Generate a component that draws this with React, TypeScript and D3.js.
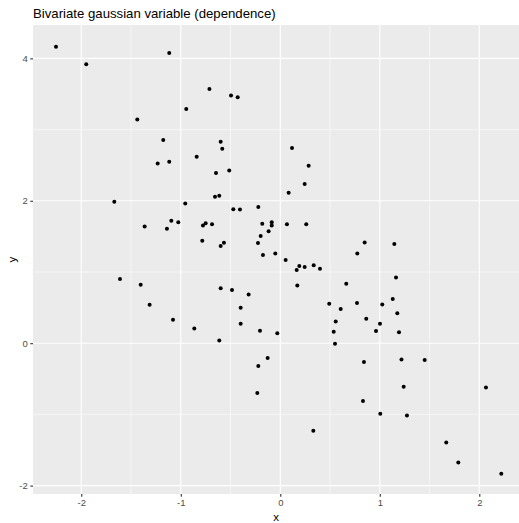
import React, { useEffect, useRef } from "react";
import * as d3 from "d3";

// values (x, y pairs)
const xValues = [
  -2.254, -1.116, -1.95, -0.712, -0.945, -1.437, -1.176, -0.84, -1.232, -1.116,
  -1.668, -0.955, -0.495, -0.428, -0.599, -0.583, 0.118, 0.285, -0.646, -0.513,
  0.245, 0.084, -0.656, -0.613, -0.472, -0.405, -0.221, -1.363, -1.095, -1.025,
  -1.139, -0.777, -0.75, -0.784, -1.611, -1.403, -1.313, -1.078, -0.864, -0.686,
  -0.181, -0.086, -0.086, 0.067, 0.261, -0.117, -0.197, -0.566, -0.599, -0.224,
  -0.174, -0.05, 0.054, 0.774, 0.191, 0.245, 0.336, 0.399, 0.165, 0.171,
  -0.599, -0.485, -0.318, 0.663, 0.492, 0.607, 0.771, -0.398, -0.398, 0.557,
  0.537, 0.55, -0.204, -0.03, -0.613, -0.127, -0.221, -0.231, 0.848, 1.146,
  1.163, 1.13, 1.025, 1.176, 0.864, 1.002, 0.962, 1.193, 1.218, 1.451,
  0.841, 1.24, 2.067, 0.831, 1.005, 1.273, 0.332, 1.668, 1.789, 2.221,
];
const yValues = [
  4.163, 4.074, 3.916, 3.569, 3.288, 3.143, 2.853, 2.618, 2.525, 2.548,
  1.986, 1.963, 3.48, 3.456, 2.829, 2.73, 2.74, 2.492, 2.389, 2.427,
  2.235, 2.112, 2.056, 2.07, 1.883, 1.879, 1.912, 1.64, 1.719, 1.697,
  1.607, 1.654, 1.683, 1.438, 0.9, 0.82, 0.539, 0.329, 0.208, 1.669,
  1.677, 1.697, 1.654, 1.669, 1.669, 1.574, 1.504, 1.41, 1.364, 1.406,
  1.237, 1.261, 1.167, 1.261, 1.083, 1.069, 1.093, 1.045, 1.027, 0.812,
  0.77, 0.746, 0.685, 0.834, 0.553, 0.479, 0.563, 0.497, 0.272, 0.306,
  0.16, -0.008, 0.174, 0.138, 0.039, -0.209, -0.322, -0.701, 1.416, 1.392,
  0.924, 0.619, 0.545, 0.419, 0.343, 0.272, 0.17, 0.152, -0.228, -0.237,
  -0.265, -0.612, -0.621, -0.813, -0.992, -1.014, -1.23, -1.393, -1.674, -1.834,
];
const xTicks = [-2, -1, 0, 1, 2];
const xMinor = [-1.5, -0.5, 0.5, 1.5];
const yTicks = [-2, 0, 2, 4];
const yMinor = [-1, 1, 3];
const title = "Bivariate gaussian variable (dependence)";

const App = () => {
  const svgRef = useRef<SVGSVGElement>(null);

  useEffect(() => {
    const width = 519,
      height = 523;
    const panel = { left: 33, right: 519, top: 25, bottom: 494 };
    const font = "'Liberation Sans', Arial, sans-serif";

    const svg = d3
      .select(svgRef.current)
      .attr("width", width)
      .attr("height", height)
      .html("");

    svg.append("rect").attr("width", width).attr("height", height).attr("fill", "#ffffff");

    const x = d3.scaleLinear().domain([-2.485, 2.399]).range([panel.left, panel.right]);
    const y = d3.scaleLinear().domain([-2.118, 4.469]).range([panel.bottom, panel.top]);

    // panel background
    svg
      .append("rect")
      .attr("x", panel.left)
      .attr("y", panel.top)
      .attr("width", panel.right - panel.left)
      .attr("height", panel.bottom - panel.top)
      .attr("fill", "#ebebeb");

    // grid lines (minor first, then major)
    const grid = svg.append("g");
    grid
      .selectAll("line.xminor")
      .data(xMinor)
      .enter()
      .append("line")
      .attr("x1", (d) => x(d))
      .attr("x2", (d) => x(d))
      .attr("y1", panel.top)
      .attr("y2", panel.bottom)
      .attr("stroke", "#fff")
      .attr("stroke-width", 0.55);
    grid
      .selectAll("line.yminor")
      .data(yMinor)
      .enter()
      .append("line")
      .attr("y1", (d) => y(d))
      .attr("y2", (d) => y(d))
      .attr("x1", panel.left)
      .attr("x2", panel.right)
      .attr("stroke", "#fff")
      .attr("stroke-width", 0.55);
    grid
      .selectAll("line.xmajor")
      .data(xTicks)
      .enter()
      .append("line")
      .attr("x1", (d) => x(d))
      .attr("x2", (d) => x(d))
      .attr("y1", panel.top)
      .attr("y2", panel.bottom)
      .attr("stroke", "#fff")
      .attr("stroke-width", 1.1);
    grid
      .selectAll("line.ymajor")
      .data(yTicks)
      .enter()
      .append("line")
      .attr("y1", (d) => y(d))
      .attr("y2", (d) => y(d))
      .attr("x1", panel.left)
      .attr("x2", panel.right)
      .attr("stroke", "#fff")
      .attr("stroke-width", 1.1);

    // points
    svg
      .append("g")
      .selectAll("circle")
      .data(d3.zip(xValues, yValues))
      .enter()
      .append("circle")
      .attr("cx", (d) => x(d[0]))
      .attr("cy", (d) => y(d[1]))
      .attr("r", 2)
      .attr("fill", "#000");

    // axes (plain hyphen for negatives, like R)
    const fmt = (d: d3.NumberValue) => String(d);
    const xAxis = svg
      .append("g")
      .attr("transform", `translate(0, ${panel.bottom})`)
      .call(d3.axisBottom(x).tickValues(xTicks).tickSize(2.7).tickPadding(2.5).tickFormat(fmt));
    const yAxis = svg
      .append("g")
      .attr("transform", `translate(${panel.left}, 0)`)
      .call(d3.axisLeft(y).tickValues(yTicks).tickSize(2.7).tickPadding(2.5).tickFormat(fmt));

    [xAxis, yAxis].forEach((ax) => {
      ax.select(".domain").remove();
      ax.selectAll(".tick line").attr("stroke", "#333333").attr("stroke-width", 1.1);
      ax.selectAll(".tick text")
        .attr("fill", "#4d4d4d")
        .style("font-family", font)
        .style("font-size", "9.5px");
    });

    // axis titles
    svg
      .append("text")
      .attr("x", (panel.left + panel.right) / 2)
      .attr("y", 521)
      .attr("text-anchor", "middle")
      .style("font-family", font)
      .style("font-size", "11.5px")
      .attr("fill", "#000")
      .text("x");
    svg
      .append("text")
      .attr("transform", `translate(16, ${(panel.top + panel.bottom) / 2}) rotate(-90)`)
      .attr("text-anchor", "middle")
      .style("font-family", font)
      .style("font-size", "11.5px")
      .attr("fill", "#000")
      .text("y");

    // title
    svg
      .append("text")
      .attr("x", panel.left)
      .attr("y", 18.3)
      .style("font-family", font)
      .style("font-size", "13.2px")
      .attr("fill", "#000")
      .text(title);
  }, []);

  return <svg ref={svgRef} style={{ position: "absolute", left: 0, top: 0 }}></svg>;
};

export default App;
